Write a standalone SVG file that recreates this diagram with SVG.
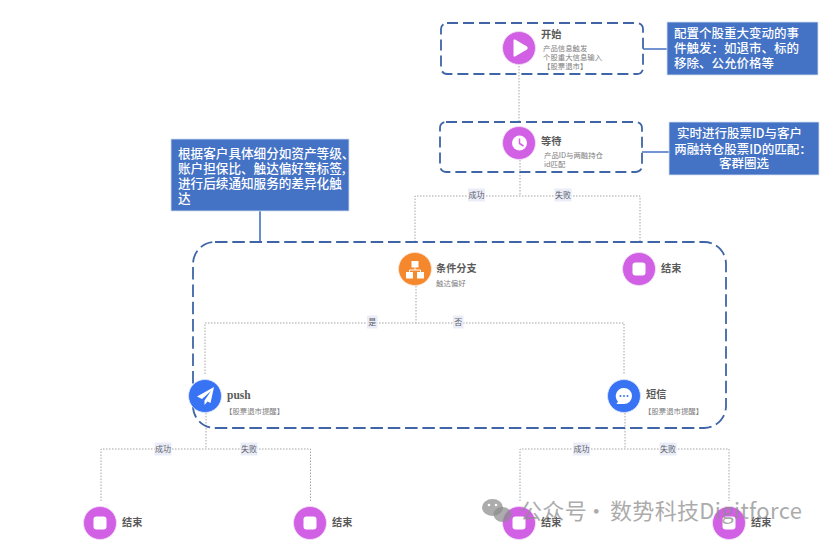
<svg xmlns="http://www.w3.org/2000/svg" width="830" height="544" viewBox="0 0 830 544">
<style>
text{font-family:"Noto Sans CJK SC","Liberation Sans",sans-serif}
.c{fill:none;stroke:#a4a4a8;stroke-width:1;stroke-dasharray:1.5 1.5}
.d{fill:none;stroke:#3f65a6;stroke-width:1.8;stroke-dasharray:11 5}
.dl{stroke-dasharray:12.5 4.8}
.l{fill:none;stroke:#4472c4;stroke-width:1.6}
.co{fill:#4472c4;stroke:#d5e0f2;stroke-width:.8}
.ct{fill:#fff;font-size:12.5px;font-weight:500}
.ct3{font-size:12.6px}
.cc{text-anchor:middle}
.lb{fill:#eaedf8}
.lt{fill:#60616a;font-size:8px;text-anchor:middle}
.t{fill:#5a5a5a;font-size:10.2px;font-weight:700}
.s{fill:#808080;font-size:7.4px}
.p{fill:#d160e4;stroke:#f3e0f7;stroke-width:.8}
.b{fill:#3873f4;stroke:#dfe8fd;stroke-width:.8}
.g{fill:#f5872c;stroke:#fde5d2;stroke-width:.8}
.w{fill:#fff}
.wm{fill:#8c8c8c;opacity:.72;font-size:22px;letter-spacing:.35px}
</style>
<rect width="830" height="544" fill="#fff"/>
<g id="connectors">
<path class="c" d="M519 66V121"/>
<path class="c" d="M520 160V196M415 242V196H640V242"/>
<path class="c" d="M416 286V323M205 374V323H624V374"/>
<path class="c" d="M206 413V449M101 501V449H310.500V501"/>
<path class="c" d="M625 413V449M520 501V449H729V501"/>
<path class="l" d="M643 49H667M642 152H669M260 211V242"/>
<rect class="lb" x="468" y="188.500" width="17" height="13"/><text class="lt" x="476.500" y="198">成功</text>
<rect class="lb" x="554.500" y="188.500" width="17" height="13"/><text class="lt" x="563" y="198">失败</text>
<rect class="lb" x="367" y="315.500" width="10.500" height="13"/><text class="lt" x="372.300" y="325">是</text>
<rect class="lb" x="453" y="315.500" width="10.500" height="13"/><text class="lt" x="458.300" y="325">否</text>
<rect class="lb" x="154.500" y="442.500" width="17" height="13"/><text class="lt" x="163" y="452">成功</text>
<rect class="lb" x="240.500" y="442.500" width="17" height="13"/><text class="lt" x="249" y="452">失败</text>
<rect class="lb" x="573" y="442.500" width="17" height="13"/><text class="lt" x="581.500" y="452">成功</text>
<rect class="lb" x="659.500" y="442.500" width="17" height="13"/><text class="lt" x="668" y="452">失败</text>
</g>
<g id="group-start"><rect class="d" x="441" y="23" width="202" height="51" rx="6"/></g>
<g id="group-wait"><rect class="d" x="440" y="122" width="202" height="50" rx="6"/></g>
<g id="group-branch"><rect class="d dl" x="193" y="242" width="533" height="186" rx="22"/></g>
<g id="note-1"><rect class="co" x="667" y="22" width="151" height="53"/>
<text class="ct" x="674" y="37.500">配置个股重大变动的事</text><text class="ct" x="674" y="53">件触发：如退市、标的</text><text class="ct" x="674" y="68">移除、公允价格等</text></g>
<g id="note-2"><rect class="co" x="669" y="122" width="150" height="53"/>
<text class="ct cc" x="739.500" y="138">实时进行股票ID与客户</text><text class="ct cc" x="743" y="153.500">两融持仓股票ID的匹配：</text><text class="ct cc" x="744" y="168">客群圈选</text></g>
<g id="note-3"><rect class="co" x="171" y="139" width="178" height="72"/>
<text class="ct ct3" x="178" y="157.500">根据客户具体细分如资产等级、</text><text class="ct ct3" x="178" y="172.500">账户担保比、触达偏好等标签,</text><text class="ct ct3" x="178" y="187.500">进行后续通知服务的差异化触</text><text class="ct ct3" x="178" y="202.500">达</text></g>
<g id="node-start"><circle class="p" cx="519" cy="48" r="16.500"/><path class="w" d="M513.500 40.500Q513.500 39 515 39.500L527 46.500Q528.500 48 527 49.500L515 56.500Q513.500 57 513.500 55.500Z"/>
<text class="t" x="541" y="38">开始</text><text class="s" x="543" y="50.500">产品信息触发</text><text class="s" x="543" y="59.500">个股重大信息输入</text><text class="s" x="543" y="68.500">【股票退市】</text></g>
<g id="node-wait"><circle class="p" cx="519" cy="143" r="16.500"/><circle class="w" cx="519.500" cy="143" r="7.500"/><path d="M519.500 138.500V143.500L523.500 146" fill="none" stroke="#d160e4" stroke-width="1.500"/>
<text class="t" x="541" y="145">等待</text><text class="s" x="544" y="158">产品ID与两融持仓</text><text class="s" x="544" y="167">id匹配</text></g>
<g id="node-condition"><circle class="g" cx="415" cy="269" r="16.500"/><rect class="w" x="411.500" y="261" width="7" height="6.500"/><rect class="w" x="406" y="272" width="7" height="6.500"/><rect class="w" x="417" y="272" width="7" height="6.500"/><path d="M415 267.500V270M409.500 272V270H420.500V272" fill="none" stroke="#fff" stroke-width="1"/>
<text class="t" x="436" y="272">条件分支</text><text class="s" x="436" y="286">触达偏好</text></g>
<g id="node-end-1"><circle class="p" cx="639" cy="269" r="16.500"/><rect class="w" x="632.500" y="262.500" width="13" height="13" rx="3"/><text class="t" x="661" y="272">结束</text></g>
<g id="node-push"><circle class="b" cx="205" cy="396" r="16.500"/><path class="w" d="M214 387L197 396.500L202 399L211 391L204.500 400.500L204.500 405L207.500 401.500L210.500 403Z"/>
<text class="t" x="227" y="398.500" style="font-family:'Liberation Serif',serif;font-size:11.500px">push</text><text class="s" x="225" y="414">【股票退市提醒】</text></g>
<g id="node-sms"><circle class="b" cx="624" cy="396" r="16.500"/><path class="w" d="M624 388a8 8 0 0 1 0 16H616.500L618 401.500A8 8 0 0 1 624 388Z"/><circle cx="620.500" cy="396" r="1" fill="#3873f4"/><circle cx="624" cy="396" r="1" fill="#3873f4"/><circle cx="627.500" cy="396" r="1" fill="#3873f4"/>
<text class="t" x="646" y="398">短信</text><text class="s" x="644" y="414">【股票退市提醒】</text></g>
<g id="node-end-2"><circle class="p" cx="100" cy="523" r="16.500"/><rect class="w" x="93.500" y="516.500" width="13" height="13" rx="3"/><text class="t" x="122" y="526">结束</text></g>
<g id="node-end-3"><circle class="p" cx="310" cy="523" r="16.500"/><rect class="w" x="303.500" y="516.500" width="13" height="13" rx="3"/><text class="t" x="332" y="526">结束</text></g>
<g id="node-end-4"><circle class="p" cx="519" cy="523" r="16.500"/><rect class="w" x="512.500" y="516.500" width="13" height="13" rx="3"/><text class="t" x="541" y="526">结束</text></g>
<g id="node-end-5"><circle class="p" cx="729" cy="523" r="16.500"/><rect class="w" x="722.500" y="516.500" width="13" height="13" rx="3"/><text class="t" x="751" y="526">结束</text></g>
<g id="watermark"><ellipse cx="492.500" cy="507.500" rx="10.500" ry="8.500" fill="#8c8c8c" opacity=".72"/><ellipse cx="502.500" cy="514.500" rx="9" ry="7.500" fill="#8c8c8c" opacity=".72"/><circle cx="489" cy="505" r="1.300" fill="#fff"/><circle cx="496" cy="505" r="1.300" fill="#fff"/>
<text class="wm" x="520" y="519">公众号<tspan dx="-7"> · </tspan><tspan dx="-3">数势科技Digitforce</tspan></text></g>
</svg>
